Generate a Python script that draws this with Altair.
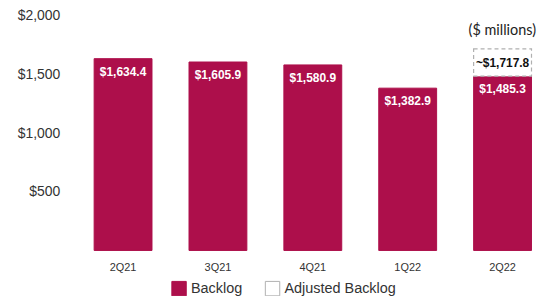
import altair as alt
import pandas as pd

quarters = ["2Q21", "3Q21", "4Q21", "1Q22", "2Q22"]
backlog = [1634.4, 1605.9, 1580.9, 1382.9, 1485.3]
adjusted_quarter = "2Q22"
adjusted_total = 1717.8
y_ticks = [500, 1000, 1500, 2000]

CRIMSON = "#AD0F4B"

rows = []
for q, v in zip(quarters, backlog):
    rows.append({"quarter": q, "series": "Backlog", "start": 0.0, "end": v,
                 "label": "${:,.1f}".format(v)})
base_val = backlog[quarters.index(adjusted_quarter)]
rows.append({"quarter": adjusted_quarter, "series": "Adjusted Backlog",
             "start": base_val, "end": adjusted_total,
             "label": "~${:,.1f}".format(adjusted_total)})
df = pd.DataFrame(rows)

x = alt.X("quarter:N", sort=quarters, title=None,
          scale=alt.Scale(paddingInner=0.39, paddingOuter=0.195),
          axis=alt.Axis(labelAngle=0, labelPadding=11, domain=False, ticks=False, grid=False,
                        labelFontSize=11, labelColor="#333333", labelFont="Liberation Sans"))
y = alt.Y("start:Q", title=None, scale=alt.Scale(domain=[0, 2000], nice=False),
          axis=alt.Axis(values=y_ticks, format="$,.0f", domain=False, ticks=False, grid=False,
                        labelPadding=16, labelFontSize=14, labelColor="#333333",
                        labelFont="Liberation Sans"))

color = alt.Color("series:N",
                  scale=alt.Scale(domain=["Backlog", "Adjusted Backlog"], range=[CRIMSON, "#ffffff"]),
                  legend=alt.Legend(title=None, orient="none", legendX=96, legendY=266,
                                    direction="horizontal", symbolType="square", symbolSize=210,
                                    labelFontSize=14.5, labelColor="#333333", labelFont="Liberation Sans",
                                    columnPadding=20, symbolStrokeWidth=1))
stroke = alt.Stroke("series:N",
                    scale=alt.Scale(domain=["Backlog", "Adjusted Backlog"], range=[CRIMSON, "#b0b0b0"]),
                    legend=None)

bars = alt.Chart(df).transform_filter(alt.datum.series == "Backlog").mark_bar(
    strokeWidth=1, opacity=1).encode(x=x, y=y, y2="end:Q", color=color, stroke=stroke)

adj = alt.Chart(df).transform_filter(alt.datum.series == "Adjusted Backlog").mark_bar(
    strokeWidth=1.2, strokeDash=[4, 3], opacity=1).encode(
    x=x, y=y, y2="end:Q", color=color, stroke=stroke)

labels = alt.Chart(df).transform_filter(alt.datum.series == "Backlog").mark_text(
    baseline="middle", dy=13, fontSize=12, fontWeight="bold", color="white",
    font="Liberation Sans").encode(
    x=alt.X("quarter:N", sort=quarters), y=alt.Y("end:Q"), text="label:N")

adj_label = alt.Chart(df).transform_filter(alt.datum.series == "Adjusted Backlog").mark_text(
    baseline="middle", dy=14, fontSize=12, fontWeight="bold", color="#111111",
    font="Liberation Sans").encode(
    x=alt.X("quarter:N", sort=quarters), y=alt.Y("end:Q"), text="label:N")

units = alt.Chart(pd.DataFrame({"t": ["($ millions)"]})).mark_text(
    fontSize=14.5, font="Lato", color="#222222", baseline="middle").encode(
    x=alt.value(429), y=alt.value(15), text="t:N")

chart = alt.layer(bars, adj, labels, adj_label, units).properties(
    width=477, height=236,
    background="white",
    autosize=alt.AutoSizeParams(type="none"),
    padding={"left": 68, "top": 7, "right": 0, "bottom": 45},
).configure_view(stroke=None).configure_axis(
    domain=False, ticks=False, grid=False
)

chart.save("out.html", embed_options={"renderer": "svg", "actions": False})
